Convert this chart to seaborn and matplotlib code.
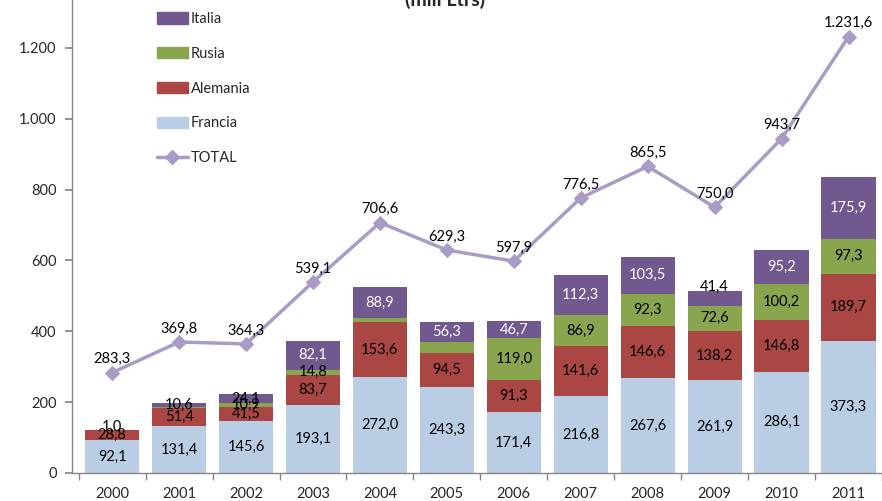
import numpy as np
import pandas as pd
import matplotlib
matplotlib.use("Agg")
import matplotlib.pyplot as plt
import seaborn as sns
from matplotlib.patches import Patch
from matplotlib.lines import Line2D

years = ["2000", "2001", "2002", "2003", "2004", "2005", "2006", "2007", "2008", "2009", "2010", "2011"]
francia = [92.1, 131.4, 145.6, 193.1, 272.0, 243.3, 171.4, 216.8, 267.6, 261.9, 286.1, 373.3]
alemania = [28.8, 51.4, 41.5, 83.7, 153.6, 94.5, 91.3, 141.6, 146.6, 138.2, 146.8, 189.7]
rusia = [1.0, 3.0, 10.9, 14.8, 11.0, 32.0, 119.0, 86.9, 92.3, 72.6, 100.2, 97.3]
italia = [0.0, 10.6, 24.1, 82.1, 88.9, 56.3, 46.7, 112.3, 103.5, 41.4, 95.2, 175.9]
total = [283.3, 369.8, 364.3, 539.1, 706.6, 629.3, 597.9, 776.5, 865.5, 750.0, 943.7, 1231.6]
rusia_labeled = [True, False, True, True, False, False, True, True, True, True, True, True]
italia_labeled = [False, True, True, True, True, True, True, True, True, True, True, True]
title = "(mill Ltrs)"

c_fr = "#B9CDE5"
c_al = "#AA4643"
c_ru = "#89A54E"
c_it = "#71588F"
c_tot = "#A99BC6"

sns.set_theme(style="white")
plt.rcParams['font.family'] = ['Lato', 'DejaVu Sans']

fig = plt.figure(figsize=(8.82, 5.01), dpi=100)
ax = fig.add_axes([72/882, 28/501, 810/882, 473/501])

df = pd.DataFrame({"year": years, "fr": francia, "al": alemania, "ru": rusia, "it": italia})
df["c1"] = df["fr"]
df["c2"] = df["c1"] + df["al"]
df["c3"] = df["c2"] + df["ru"]
df["c4"] = df["c3"] + df["it"]

for col, color in [("c4", c_it), ("c3", c_ru), ("c2", c_al), ("c1", c_fr)]:
    sns.barplot(data=df, x="year", y=col, color=color, width=0.81, ax=ax,
                saturation=1, linewidth=0, errorbar=None)

x = np.arange(len(years))
sns.lineplot(x=x, y=total, color=c_tot, linewidth=2.5, marker="D", markersize=7,
             markeredgecolor=c_tot, ax=ax)

def fmt(v):
    s = f"{v:,.1f}"
    return s.replace(",", "X").replace(".", ",").replace("X", ".")

fs = 10.5
for i in range(len(years)):
    ax.text(i, francia[i] / 2, fmt(francia[i]), ha="center", va="center", fontsize=fs, color="black")
    ax.text(i, df["c1"][i] + alemania[i] / 2, fmt(alemania[i]), ha="center", va="center", fontsize=fs, color="black")
    if rusia_labeled[i]:
        yv = df["c2"][i] + rusia[i] / 2
        if i == 0:
            yv += 8
        ax.text(i, yv, fmt(rusia[i]), ha="center", va="center", fontsize=fs, color="black")
    if italia_labeled[i]:
        if italia[i] >= 45:
            ax.text(i, df["c3"][i] + italia[i] / 2, fmt(italia[i]), ha="center", va="center", fontsize=fs, color="white")
        elif i == 9:
            ax.text(i, df["c4"][i] + 10, fmt(italia[i]), ha="center", va="center", fontsize=fs, color="black")
        else:
            ax.text(i, df["c3"][i] + italia[i] / 2, fmt(italia[i]), ha="center", va="center", fontsize=fs, color="black")
    ax.text(i, total[i] + 38, fmt(total[i]), ha="center", va="center", fontsize=fs, color="black")

ax.set_xlim(-0.6, 11.37)
ax.set_ylim(0, 1335)
ax.set_yticks([0, 200, 400, 600, 800, 1000, 1200])
ax.set_yticklabels(["0", "200", "400", "600", "800", "1.000", "1.200"], fontsize=fs)
ax.set_xticks(x)
ax.set_xticklabels(years, fontsize=fs)
ax.set_xticks(np.arange(-0.5, 11.6, 1), minor=True)
ax.tick_params(axis="x", which="major", length=0, pad=10)
ax.tick_params(axis="x", which="minor", length=5, color="#868686", direction="out", bottom=True)
ax.tick_params(axis="y", length=5, color="#868686", direction="out", left=True, pad=6)
ax.set_xlabel("")
ax.set_ylabel("")
for s in ["top", "right"]:
    ax.spines[s].set_visible(False)
for s in ["left", "bottom"]:
    ax.spines[s].set_color("#868686")
    ax.spines[s].set_linewidth(1)

handles = [Patch(color=c_it), Patch(color=c_ru), Patch(color=c_al), Patch(color=c_fr),
           Line2D([0], [0], color=c_tot, lw=2.5, marker="D", markersize=7)]
labels = ["Italia", "Rusia", "Alemania", "Francia", "TOTAL"]
ax.legend(handles, labels, loc="upper left", bbox_to_anchor=(72/810, 1.0 + 1/473), frameon=False,
          fontsize=fs, labelspacing=1.42, handlelength=2.1, handleheight=0.8, handletextpad=0.2)

fig.text(445/882, 1 - 6/501, title, ha="center", va="baseline", fontsize=14, fontweight="bold")

fig.savefig("out.png", dpi=100)
